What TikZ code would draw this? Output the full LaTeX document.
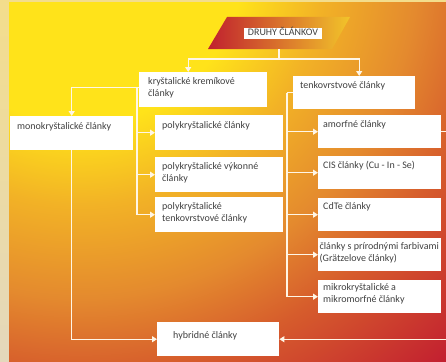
\documentclass[tikz,border=0pt]{standalone}
\usepackage{fontspec}
\setmainfont{Carlito}
\usetikzlibrary{arrows.meta}

\definecolor{bgyel}{HTML}{FFE31A}
\definecolor{bgamb}{HTML}{F2B226}
\definecolor{bgora}{HTML}{E48A2E}
\definecolor{bgorr}{HTML}{D65C2C}
\definecolor{bgred}{HTML}{C21E30}
\definecolor{okrajhore}{HTML}{F3DD8C}
\definecolor{okrajdole}{HTML}{E4D8BC}
\definecolor{titred}{HTML}{C0202E}
\definecolor{titgold}{HTML}{F2C42A}
\definecolor{txtgray}{HTML}{404040}
\definecolor{spojcol}{HTML}{FFF6E6}

\pgfdeclareradialshading{pozadie}{\pgfpoint{0bp}{0bp}}{color(0bp)=(bgyel); color(7.5bp)=(bgyel); color(11.25bp)=(bgamb); color(15.5bp)=(bgora); color(19bp)=(bgorr); color(25bp)=(bgred); color(50bp)=(bgred)}

\tikzset{
  clanok/.style={fill=white, anchor=north west, inner sep=0pt},
  popis/.style={anchor=north west, inner xsep=7pt, inner ysep=5.5pt, align=left,
    text=txtgray, font=\fontsize{10}{11.5}\selectfont},
  titul/.style={fill=white, text=txtgray, font=\fontsize{10}{11.5}\selectfont,
    inner xsep=3.5pt, inner ysep=1pt, text height=7pt, text depth=2pt},
  spoj/.style={draw=spojcol, line width=1.3pt, -{Triangle[length=5pt,width=6pt]}},
}

\begin{document}
\begin{tikzpicture}[x=1pt, y=-1pt]

% pozadie
\useasboundingbox (0,0) rectangle (446,361);
\shade[top color=okrajhore, bottom color=okrajdole] (0,0) rectangle (446,361);
\begin{scope}
\clip (9,3) rectangle (446,361);
\shade[shading=pozadie] (80,-40) circle (545pt);
\end{scope}

% titul
\shade[left color=titred, right color=titgold] (227,17) -- (350,17) -- (332,49) -- (208,49) -- cycle;
\coordinate (druhy-s) at (279,49);
\node[titul] (druhy) at (283,33.5) {DRUHY ČLÁNKOV};

% druhy clankov
\node[clanok, minimum width=128, minimum height=35] (kryst) at (139,72) {};
\node[popis, inner xsep=9pt] (kryst-t) at (kryst.north west) {kryštalické kremíkové\\články};
\node[clanok, minimum width=122, minimum height=33] (tenko) at (293,76) {};
\node[popis] (tenko-t) at (tenko.north west) {tenkovrstvové články};

\node[clanok, minimum width=123, minimum height=34] (mono) at (10,116) {};
\node[popis, inner ysep=6.5pt] (mono-t) at (mono.north west) {monokryštalické články};

\node[clanok, minimum width=128, minimum height=35] (poly1) at (155,115) {};
\node[popis, inner ysep=6.5pt] (poly1-t) at (poly1.north west) {polykryštalické články};
\node[clanok, minimum width=128, minimum height=35] (poly2) at (155,157) {};
\node[popis] (poly2-t) at (poly2.north west) {polykryštalické výkonné\\články};
\node[clanok, minimum width=128, minimum height=35] (poly3) at (155,197) {};
\node[popis] (poly3-t) at (poly3.north west) {polykryštalické\\tenkovrstvové články};

\node[clanok, minimum width=123, minimum height=33] (amorf) at (318,115) {};
\node[popis, inner xsep=5pt] (amorf-t) at (amorf.north west) {amorfné články};
\node[clanok, minimum width=123, minimum height=33] (cis) at (318,156) {};
\node[popis, inner xsep=5pt, inner ysep=4.5pt] (cis-t) at (cis.north west) {CIS články (Cu - In - Se)};
\node[clanok, minimum width=123, minimum height=33] (cdte) at (318,198) {};
\node[popis, inner xsep=5pt, inner ysep=4.5pt] (cdte-t) at (cdte.north west) {CdTe články};
\node[clanok, minimum width=123, minimum height=33] (farb) at (318,238) {};
\node[popis, inner xsep=1.5pt, inner ysep=4.5pt] (farb-t) at (farb.north west) {články s prírodnými farbivami\\(Grätzelove články)};
\node[clanok, minimum width=123, minimum height=33] (mikro) at (318,280) {};
\node[popis, inner xsep=5pt, inner ysep=3.5pt] (mikro-t) at (mikro.north west) {mikrokryštalické a\\mikromorfné články};

\node[clanok, minimum width=122, minimum height=34] (hybrid) at (157,322) {};
\node[popis, inner xsep=16pt, inner ysep=9pt] (hybrid-t) at (hybrid.north west) {hybridné články};

% spoje
\coordinate (rozv) at (279,59);
\draw[spoj, -] (druhy-s) -- (rozv);
\draw[spoj] (rozv) -| ([xshift=-15pt]kryst.north);
\draw[spoj] (rozv) -| ([xshift=5pt]tenko.north);

\draw[spoj] ([yshift=2pt]kryst.west) -| (mono.north);
\coordinate (kryst-v) at ([xshift=-2pt, yshift=2pt]kryst.west);
\foreach \c in {poly1,poly2,poly3}
  \draw[spoj] (kryst-v) |- (\c.west);

\draw[spoj] (mono.south) |- (hybrid.west);

\coordinate (tenko-v) at ([xshift=-6pt]tenko.west);
\draw[spoj, -] (tenko.west) -- (tenko-v);
\foreach \c in {amorf,cis,cdte,farb,mikro}
  \draw[spoj] (tenko-v) |- (\c.west);

% zvislica za pravym okrajom
\draw[spoj] (amorf.east) -- ++(8,0) |- (hybrid.east);

\end{tikzpicture}
\end{document}
